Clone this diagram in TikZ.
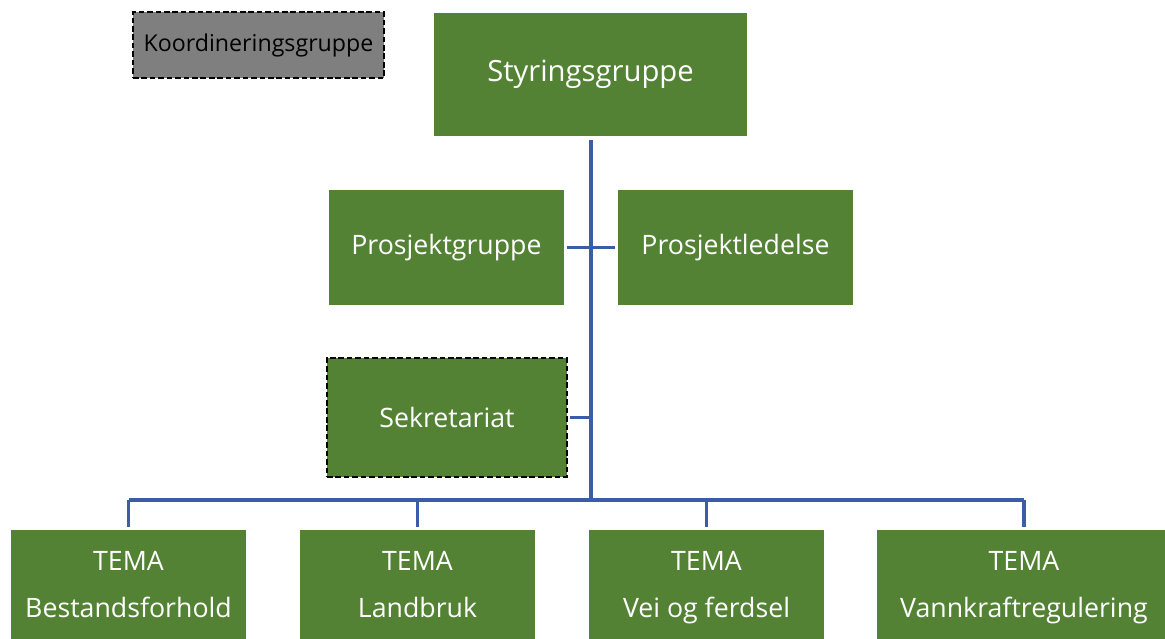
\documentclass[tikz,border=0pt]{standalone}
\usepackage{fontspec}
\setmainfont{Open Sans}
\definecolor{boxgreen}{HTML}{548235}
\definecolor{boxgray}{HTML}{7F7F7F}
\definecolor{linkblue}{HTML}{3B5DA8}
\newcommand{\tema}[1]{TEMA\vphantom{Ag}\\#1\vphantom{Ag}}
\begin{document}
\begin{tikzpicture}[inner sep=0pt,outer sep=0pt,
unit/.style={rectangle,fill=boxgreen,text=white,align=center,minimum width=5.875cm,minimum height=2.875cm,font=\fontsize{19}{33}\selectfont},
dashbox/.style={draw=black,line width=1.8pt,dash pattern=on 4pt off 2pt},
link/.style={draw=linkblue,line width=2.3pt}]

\useasboundingbox (0,0) rectangle (29.125,15.975);

\draw (6.4625,14.85) node[dashbox,fill=boxgray,minimum width=6.275cm,minimum height=1.65cm,font=\fontsize{16.5}{20}\selectfont] (koord) {Koordineringsgruppe};
\draw (14.7625,14.1125) node[unit,minimum width=7.825cm,minimum height=3.075cm,font=\fontsize{20.8}{24}\selectfont] (styr) {Styringsgruppe};
\draw (11.1625,9.7875) node[unit] (pgrp) {Prosjektgruppe};
\draw (18.3875,9.7875) node[unit] (pled) {Prosjektledelse};
\draw (11.175,5.5375) node[unit,dashbox,minimum width=6cm,minimum height=2.975cm] (sek) {Sekretariat};

\draw (3.2125,1.2875) node[unit] (t1) {\tema{Bestandsforhold}};
\draw (10.4375,1.2875) node[unit] (t2) {\tema{Landbruk}};
\draw (17.6625,1.2875) node[unit] (t3) {\tema{Vei og ferdsel}};
\draw (25.6,1.2875) node[unit,minimum width=7.35cm] (t4) {\tema{Vannkraftregulering}};

\coordinate (bus) at (14.775,3.475);

\draw[link] ([yshift=-3pt]styr.south -| bus) -- (bus);
\draw[link] ([xshift=2pt]pgrp.east) -- ([xshift=-2pt]pled.west);
\draw[link] ([xshift=2pt]sek.east) -- (sek.east -| bus);
\draw[link] (t1.north |- bus) -- (t4.north |- bus);
\foreach \t in {t1,t2,t3,t4}
  \draw[link] (\t.north |- bus) -- ([yshift=2pt]\t.north);

\end{tikzpicture}
\end{document}
